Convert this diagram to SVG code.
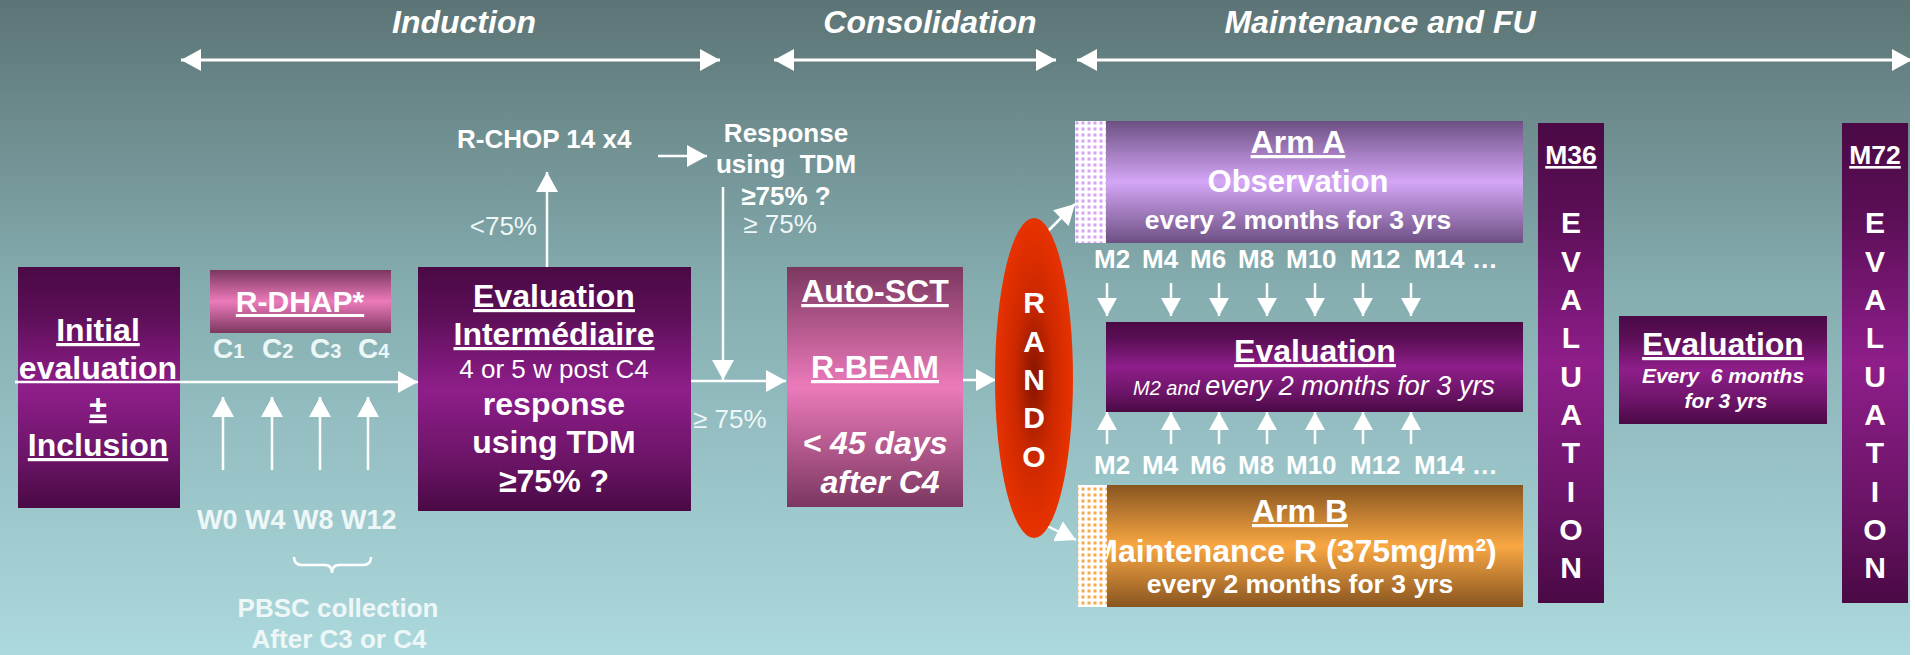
<svg xmlns="http://www.w3.org/2000/svg" width="1915" height="655" viewBox="0 0 1915 655">
<style>
text{font-family:"Liberation Sans",Arial,sans-serif;fill:#fff;}
.b{font-weight:bold;}
.i{font-style:italic;}
.u{text-decoration:underline;}
.c{text-anchor:middle;}
.e{text-anchor:end;}
.f32{font-size:32px;}
.f26{font-size:26px;}
.f30{font-size:30px;}
.lt{fill:#eef7f7;}
.ln{stroke:#fff;stroke-width:2.5;fill:none;}
.ph{stroke:#fff;stroke-width:3;fill:none;}
</style>
<defs>
<linearGradient id="bg" x1="0" y1="0" x2="0" y2="1">
<stop offset="0" stop-color="#5c7475"/>
<stop offset="0.45" stop-color="#86aeb1"/>
<stop offset="1" stop-color="#acd9dd"/>
</linearGradient>
<linearGradient id="gPurple" x1="0" y1="0" x2="0" y2="1">
<stop offset="0" stop-color="#4a0945"/>
<stop offset="0.2" stop-color="#5c0f57"/>
<stop offset="0.5" stop-color="#8f1e8b"/>
<stop offset="0.8" stop-color="#6a1465"/>
<stop offset="1" stop-color="#4a0945"/>
</linearGradient>
<linearGradient id="gPink" x1="0" y1="0" x2="0" y2="1">
<stop offset="0" stop-color="#7b3760"/>
<stop offset="0.5" stop-color="#ec7abb"/>
<stop offset="1" stop-color="#7b3760"/>
</linearGradient>
<linearGradient id="gLav" x1="0" y1="0" x2="0" y2="1">
<stop offset="0" stop-color="#6d5083"/>
<stop offset="0.5" stop-color="#d4a6f6"/>
<stop offset="1" stop-color="#6d5083"/>
</linearGradient>
<linearGradient id="gOr" x1="0" y1="0" x2="0" y2="1">
<stop offset="0" stop-color="#885520"/>
<stop offset="0.5" stop-color="#f9a743"/>
<stop offset="1" stop-color="#885520"/>
</linearGradient>
<radialGradient id="gRed" cx="0.5" cy="0.5" r="0.5">
<stop offset="0" stop-color="#861500"/>
<stop offset="0.5" stop-color="#cc2800"/>
<stop offset="1" stop-color="#e83200"/>
</radialGradient>
<pattern id="dotL" width="6" height="6" patternUnits="userSpaceOnUse">
<rect width="6" height="6" fill="#fff"/>
<rect x="1.5" y="1.5" width="3" height="3" fill="#d6a2f4"/>
</pattern>
<pattern id="dotO" width="6" height="6" patternUnits="userSpaceOnUse">
<rect width="6" height="6" fill="#fff"/>
<rect x="1.5" y="1.5" width="3" height="3" fill="#f7a84a"/>
</pattern>
<marker id="ah" markerUnits="userSpaceOnUse" markerWidth="20" markerHeight="22" refX="20" refY="11" orient="auto-start-reverse" viewBox="0 0 20 22">
<path d="M0,0 L20,11 L0,22 z" fill="#fff"/>
</marker>
<marker id="ahs" markerUnits="userSpaceOnUse" markerWidth="18" markerHeight="20" refX="18" refY="10" orient="auto" viewBox="0 0 18 20">
<path d="M0,0 L18,10 L0,20 z" fill="#fff"/>
</marker>
</defs>

<rect width="1915" height="655" fill="url(#bg)"/>

<g id="phases">
<text class="b i" font-size="32" x="392" y="33">Induction</text>
<text class="b i c" font-size="32" x="930" y="33">Consolidation</text>
<text class="b i c" font-size="32" x="1380" y="33">Maintenance and FU</text>
</g>

<g id="connectors">
<line class="ph" x1="181" y1="60" x2="720" y2="60" marker-start="url(#ah)" marker-end="url(#ah)"/>
<line class="ph" x1="774" y1="60" x2="1056" y2="60" marker-start="url(#ah)" marker-end="url(#ah)"/>
<line class="ph" x1="1077" y1="60" x2="1912" y2="60" marker-start="url(#ah)" marker-end="url(#ah)"/>
<line class="ln" x1="15" y1="382" x2="418" y2="382" marker-end="url(#ah)"/>
<line class="ln" x1="223" y1="470" x2="223" y2="397" marker-end="url(#ah)"/>
<line class="ln" x1="272" y1="470" x2="272" y2="397" marker-end="url(#ah)"/>
<line class="ln" x1="320" y1="470" x2="320" y2="397" marker-end="url(#ah)"/>
<line class="ln" x1="368" y1="470" x2="368" y2="397" marker-end="url(#ah)"/>
<path class="ln" stroke-width="1.5" d="M294,557 Q294,565 302,565 L325,565 Q332,565 332,573 Q332,565 339,565 L363,565 Q371,565 371,557"/>
<line class="ln" x1="547" y1="267" x2="547" y2="172" marker-end="url(#ah)"/>
<line class="ln" x1="658" y1="156" x2="707" y2="156" marker-end="url(#ah)"/>
<line class="ln" x1="723" y1="187" x2="723" y2="380" marker-end="url(#ah)"/>
<line class="ln" x1="691" y1="381" x2="786" y2="381" marker-end="url(#ah)"/>
<line class="ln" x1="963" y1="380" x2="996" y2="380" marker-end="url(#ah)"/>
<line class="ln" x1="1043" y1="236" x2="1075" y2="204" marker-end="url(#ah)"/>
<line class="ln" x1="1043" y1="524" x2="1076" y2="540" marker-end="url(#ah)"/>
<g id="m-arrows-down">
<line class="ln" x1="1107" y1="283" x2="1107" y2="316" marker-end="url(#ahs)"/>
<line class="ln" x1="1171" y1="283" x2="1171" y2="316" marker-end="url(#ahs)"/>
<line class="ln" x1="1219" y1="283" x2="1219" y2="316" marker-end="url(#ahs)"/>
<line class="ln" x1="1267" y1="283" x2="1267" y2="316" marker-end="url(#ahs)"/>
<line class="ln" x1="1315" y1="283" x2="1315" y2="316" marker-end="url(#ahs)"/>
<line class="ln" x1="1363" y1="283" x2="1363" y2="316" marker-end="url(#ahs)"/>
<line class="ln" x1="1411" y1="283" x2="1411" y2="316" marker-end="url(#ahs)"/>
</g>
<g id="m-arrows-up">
<line class="ln" x1="1107" y1="444" x2="1107" y2="412" marker-end="url(#ahs)"/>
<line class="ln" x1="1171" y1="444" x2="1171" y2="412" marker-end="url(#ahs)"/>
<line class="ln" x1="1219" y1="444" x2="1219" y2="412" marker-end="url(#ahs)"/>
<line class="ln" x1="1267" y1="444" x2="1267" y2="412" marker-end="url(#ahs)"/>
<line class="ln" x1="1315" y1="444" x2="1315" y2="412" marker-end="url(#ahs)"/>
<line class="ln" x1="1363" y1="444" x2="1363" y2="412" marker-end="url(#ahs)"/>
<line class="ln" x1="1411" y1="444" x2="1411" y2="412" marker-end="url(#ahs)"/>
</g>
</g>

<g id="initial">
<rect x="18" y="267" width="162" height="241" fill="url(#gPurple)"/>
<text class="b c u f32" x="98" y="341">Initial</text>
<text class="b c f32" x="98" y="379">evaluation</text>
<text class="b c u f32" x="98" y="418">±</text>
<text class="b c u f32" x="98" y="456">Inclusion</text>
<line class="ln" x1="15" y1="382" x2="180" y2="382"/>
</g>

<g id="rdhap">
<rect x="210" y="270" width="181" height="63" fill="url(#gPink)"/>
<text class="b c u f30" x="300" y="312">R-DHAP*</text>
</g>

<g id="cycles">
<text class="b lt" font-size="28" x="213" y="358">C<tspan font-size="20">1</tspan></text>
<text class="b lt" font-size="28" x="262" y="358">C<tspan font-size="20">2</tspan></text>
<text class="b lt" font-size="28" x="310" y="358">C<tspan font-size="20">3</tspan></text>
<text class="b lt" font-size="28" x="358" y="358">C<tspan font-size="20">4</tspan></text>
<text class="b lt" font-size="27" x="197" y="529">W0 W4 W8 W12</text>
<text class="b c lt" font-size="26" x="338" y="617">PBSC collection</text>
<text class="b c lt" font-size="26" x="339" y="648">After C3 or C4</text>
</g>

<g id="eval-inter">
<rect x="418" y="267" width="273" height="244" fill="url(#gPurple)"/>
<text class="b c u f32" x="554" y="307">Evaluation</text>
<text class="b c u f32" x="554" y="345">Intermédiaire</text>
<text class="c f26" x="554" y="378">4 or 5 w post C4</text>
<text class="b c f32" x="554" y="415">response</text>
<text class="b c f32" x="554" y="453">using TDM</text>
<text class="b c f32" x="554" y="492">≥75% ?</text>
</g>

<g id="rchop">
<text class="b f26" x="457" y="148">R-CHOP 14 x4</text>
<text class="e f26 lt" x="537" y="235">&lt;75%</text>
</g>

<g id="response">
<text class="b c f26" x="786" y="142">Response</text>
<text class="b c f26" x="786" y="173" xml:space="preserve">using  TDM</text>
<text class="b c f26" x="786" y="205">≥75% ?</text>
<text class="c f26 lt" x="780" y="233">≥ 75%</text>
<text class="f26 lt" x="693" y="428">≥ 75%</text>
</g>

<g id="autosct">
<rect x="787" y="267" width="176" height="240" fill="url(#gPink)"/>
<text class="b c u f32" x="875" y="302">Auto-SCT</text>
<text class="b c u f32" x="875" y="378">R-BEAM</text>
<text class="b i c f32" x="875" y="454">&lt; 45 days</text>
<text class="b i c f32" x="880" y="493">after C4</text>
</g>

<g id="rando">
<ellipse cx="1034" cy="378" rx="39" ry="160" fill="url(#gRed)"/>
<text class="b c" font-size="30" x="1034" y="313">R</text>
<text class="b c" font-size="30" x="1034" y="352">A</text>
<text class="b c" font-size="30" x="1034" y="390">N</text>
<text class="b c" font-size="30" x="1034" y="428">D</text>
<text class="b c" font-size="30" x="1034" y="467">O</text>
</g>

<g id="arm-a">
<rect x="1075" y="121" width="448" height="122" fill="url(#gLav)"/>
<rect x="1075" y="121" width="31" height="122" fill="url(#dotL)"/>
<text class="b c u f32" x="1298" y="153">Arm A</text>
<text class="b c" font-size="31" x="1298" y="192">Observation</text>
<text class="b c" font-size="26.5" x="1298" y="229">every 2 months for 3 yrs</text>
</g>

<g id="m-labels">
<text class="b f26" x="1094" y="268">M2</text>
<text class="b f26" x="1142" y="268">M4</text>
<text class="b f26" x="1190" y="268">M6</text>
<text class="b f26" x="1238" y="268">M8</text>
<text class="b f26" x="1286" y="268">M10</text>
<text class="b f26" x="1350" y="268">M12</text>
<text class="b f26" x="1414" y="268">M14 …</text>
<text class="b f26" x="1094" y="474">M2</text>
<text class="b f26" x="1142" y="474">M4</text>
<text class="b f26" x="1190" y="474">M6</text>
<text class="b f26" x="1238" y="474">M8</text>
<text class="b f26" x="1286" y="474">M10</text>
<text class="b f26" x="1350" y="474">M12</text>
<text class="b f26" x="1414" y="474">M14 …</text>
</g>

<g id="eval-mid">
<rect x="1106" y="322" width="417" height="90" fill="url(#gPurple)"/>
<text class="b c u f32" x="1315" y="362">Evaluation</text>
<text class="i" font-size="27" x="1133" y="395"><tspan font-size="20">M2 and </tspan>every 2 months for 3 yrs</text>
</g>

<g id="arm-b">
<rect x="1078" y="485" width="445" height="122" fill="url(#gOr)"/>
<text class="b c u f32" x="1300" y="522">Arm B</text>
<text class="b c f32" x="1294" y="562">Maintenance R (375mg/m²)</text>
<text class="b c" font-size="26.5" x="1300" y="593">every 2 months for 3 yrs</text>
<rect x="1078" y="485" width="29" height="122" fill="url(#dotO)"/>
</g>

<g id="m36">
<rect x="1538" y="123" width="66" height="480" fill="url(#gPurple)"/>
<text class="b c u" font-size="26.5" x="1571" y="164">M36</text>
<text class="b c f30" x="1571" y="233">E</text>
<text class="b c f30" x="1571" y="272">V</text>
<text class="b c f30" x="1571" y="310">A</text>
<text class="b c f30" x="1571" y="348">L</text>
<text class="b c f30" x="1571" y="387">U</text>
<text class="b c f30" x="1571" y="425">A</text>
<text class="b c f30" x="1571" y="463">T</text>
<text class="b c f30" x="1571" y="502">I</text>
<text class="b c f30" x="1571" y="540">O</text>
<text class="b c f30" x="1571" y="578">N</text>
</g>

<g id="eval-right">
<rect x="1619" y="316" width="208" height="108" fill="url(#gPurple)"/>
<text class="b c u f32" x="1723" y="355">Evaluation</text>
<text class="b i c" font-size="21" x="1723" y="383" xml:space="preserve">Every  6 months</text>
<text class="b i c" font-size="21" x="1726" y="408">for 3 yrs</text>
</g>

<g id="m72">
<rect x="1842" y="123" width="66" height="480" fill="url(#gPurple)"/>
<text class="b c u" font-size="26.5" x="1875" y="164">M72</text>
<text class="b c f30" x="1875" y="233">E</text>
<text class="b c f30" x="1875" y="272">V</text>
<text class="b c f30" x="1875" y="310">A</text>
<text class="b c f30" x="1875" y="348">L</text>
<text class="b c f30" x="1875" y="387">U</text>
<text class="b c f30" x="1875" y="425">A</text>
<text class="b c f30" x="1875" y="463">T</text>
<text class="b c f30" x="1875" y="502">I</text>
<text class="b c f30" x="1875" y="540">O</text>
<text class="b c f30" x="1875" y="578">N</text>
</g>

<rect x="1910" y="0" width="5" height="655" fill="#fff"/>
</svg>
